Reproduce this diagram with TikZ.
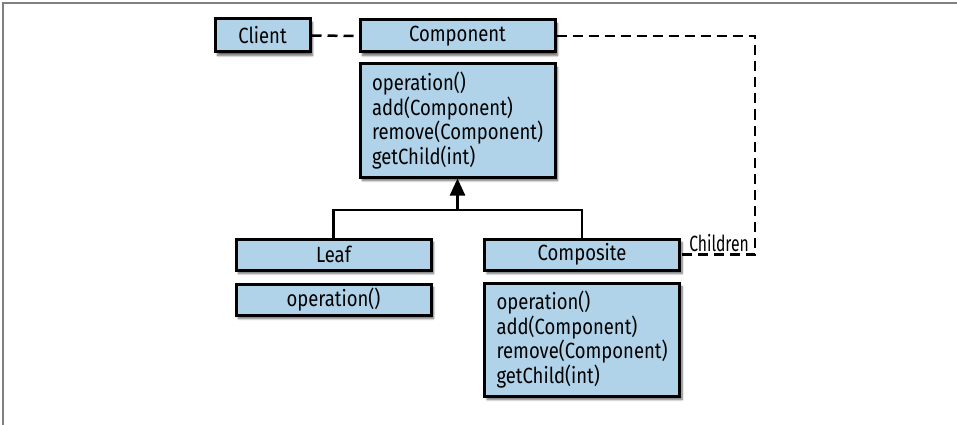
\documentclass[tikz,border=0pt]{standalone}
\usepackage{fontspec}
\setmainfont{Fira Sans}[FakeStretch=0.84]
\usetikzlibrary{arrows.meta,
  shadows.blur
}
\definecolor{boxblue}{RGB}{176,211,233}
\tikzset{>=latex}
\tikzset{
  umlbox/.style={draw=black, line width=3pt, fill=boxblue,
    blur shadow={shadow xshift=2.5pt, shadow yshift=-3.5pt, shadow blur steps=6, shadow opacity=60},
    minimum width=195pt, minimum height=31pt, inner sep=0pt,
    font=\fontsize{22}{24.5}\selectfont},
  umllist/.style={umlbox, align=left, text width=171pt, minimum height=113pt},
  dashline/.style={line width=2.5pt, dash pattern=on 10pt off 6pt}
}

\begin{document}
\begin{tikzpicture}[x=1pt,y=-1pt]
  \useasboundingbox (0,0) rectangle (957,425);
  % Frame
  \draw[line width=1.5pt,black!50] (3,425) -- (3,3) -- (957,3);

  % Classes
  \node[umlbox, minimum width=95pt, minimum height=33pt] (client) at (262.5, 35.5) {Client};
  \node[umlbox, minimum height=32pt] (comphead) at (457.5, 36) {Component};
  \node[umllist] (compbody) at (457.5, 120.5) {operation()\\add(Component)\\remove(Component)\\getChild(int)};

  \node[umlbox] (leafhead) at (333.5, 254.5) {Leaf};
  \node[umlbox] (leafbody) at (333.5, 299.5) {operation()};

  \node[umlbox] (comphead2) at (582, 254.5) {Composite};
  \node[umllist] (compbody2) at (582, 339.5) {operation()\\add(Component)\\remove(Component)\\getChild(int)};

  % Inheritance
  \coordinate (join) at (457.5, 210);
  \draw[line width=2.5pt] (leafhead.north) |- (join) -| (comphead2.north);
  \draw[line width=2.5pt,-{Triangle[length=17pt,width=15pt]}] (join) -- (compbody.south);

  % Associations
  \coordinate (turn) at (755, 254.5);
  \draw[dashline] (client.east) -- (comphead.west);
  \draw[dashline] (comphead.east) -| (turn) -- (comphead2.east);
  \node[anchor=south east, inner sep=0pt, font=\fontsize{22}{24}\selectfont, xscale=0.85] (children) at ([xshift=-6pt,yshift=3pt]turn) {Children};
\end{tikzpicture}
\end{document}
